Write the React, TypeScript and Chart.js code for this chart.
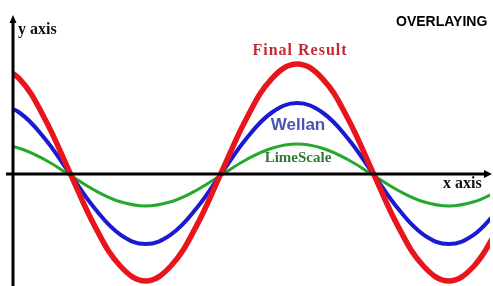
import React, { useEffect, useRef } from "react";
import { Chart, registerables } from "chart.js";

Chart.register(...registerables);

// phase angle in degrees along the x axis
const angles = [0, 30, 60, 90, 120, 150, 180, 210, 240, 270, 300, 330, 360, 390, 420, 450, 480, 510, 540, 570, 600];
// amplitudes (axis line = 0)
const finalResult = [110, 95.4, 55.8, 1.5, -52.6, -92, -107, -92, -52.6, 1.5, 55.8, 95.4, 110, 95.4, 55.8, 1.5, -52.6, -92, -107, -92, -52.6];
const wellan = [71, 61.5, 35.8, 0.5, -34.8, -60.6, -70, -60.6, -34.8, 0.5, 35.8, 61.5, 71, 61.5, 35.8, 0.5, -34.8, -60.6, -70, -60.6, -34.8];
const limeScale = [30, 25.8, 14.5, -1, -16.5, -27.8, -32, -27.8, -16.5, -1, 14.5, 25.8, 30, 25.8, 14.5, -1, -16.5, -27.8, -32, -27.8, -16.5];

const seriesNames = ["Final Result", "Wellan", "LimeScale"];
const axisLabels = ["x axis", "y axis"];
const titleText = "OVERLAYING";

const toPoints = (vals: number[]) => vals.map((v, i) => ({ x: angles[i], y: v }));

const overlayPlugin = {
  id: "overlay",
  afterDatasetsDraw(chart: any) {
    const ctx = chart.ctx as any;
    const ys = chart.scales.y;
    const y0 = ys.getPixelForValue(0);
    const x0 = chart.chartArea.left + 1;
    ctx.save();
    ctx.strokeStyle = "#000";
    ctx.fillStyle = "#000";
    ctx.lineWidth = 3;
    // horizontal axis
    ctx.beginPath();
    ctx.moveTo(6, y0);
    ctx.lineTo(486, y0);
    ctx.stroke();
    ctx.beginPath();
    ctx.moveTo(492, y0);
    ctx.lineTo(484, y0 - 4);
    ctx.lineTo(484, y0 + 4);
    ctx.closePath();
    ctx.fill();
    // vertical axis
    ctx.beginPath();
    ctx.moveTo(x0, 20);
    ctx.lineTo(x0, chart.height);
    ctx.stroke();
    ctx.beginPath();
    ctx.moveTo(x0, 15);
    ctx.lineTo(x0 - 3.5, 23);
    ctx.lineTo(x0 + 3.5, 23);
    ctx.closePath();
    ctx.fill();

    ctx.textBaseline = "middle";
    ctx.textAlign = "left";
    ctx.font = "bold 16px 'Liberation Serif', serif";
    ctx.fillStyle = "#111";
    ctx.fillText(axisLabels[1], 18, 30);
    ctx.fillText(axisLabels[0], 443, 184);

    ctx.font = "bold 14px 'Liberation Sans', sans-serif";
    ctx.fillStyle = "#000";
    ctx.fillText(titleText, 396, 22);

    ctx.textAlign = "center";
    ctx.letterSpacing = "1px";
    ctx.font = "bold 16px 'Liberation Serif', serif";
    ctx.fillStyle = "#c42a34";
    ctx.fillText(seriesNames[0], 300, 51);
    ctx.letterSpacing = "0px";
    ctx.font = "bold 17px 'Liberation Sans', sans-serif";
    ctx.fillStyle = "#4b55b0";
    ctx.fillText(seriesNames[1], 298, 125);
    ctx.font = "bold 15px 'Liberation Serif', serif";
    ctx.fillStyle = "#2f7a34";
    ctx.fillText(seriesNames[2], 298, 158);
    ctx.restore();
  },
};

export default function App() {
  const ref = useRef<HTMLCanvasElement | null>(null);
  useEffect(() => {
    if (!ref.current) return;
    const chart = new Chart(ref.current, {
      type: "line",
      data: {
        datasets: [
          { label: seriesNames[0], data: toPoints(finalResult), borderColor: "#e8161c", borderWidth: 5.5, pointRadius: 0, tension: 0.4, fill: false },
          { label: seriesNames[1], data: toPoints(wellan), borderColor: "#1a1ad2", borderWidth: 4, pointRadius: 0, tension: 0.4, fill: false },
          { label: seriesNames[2], data: toPoints(limeScale), borderColor: "#26a82c", borderWidth: 3, pointRadius: 0, tension: 0.4, fill: false },
        ],
      },
      options: {
        animation: false,
        responsive: false,
        maintainAspectRatio: false,
        layout: { padding: { left: 12, right: 3, top: 0, bottom: 0 } },
        plugins: { legend: { display: false }, tooltip: { enabled: false }, title: { display: false } },
        scales: {
          x: { type: "linear", min: 21.4, max: 589, display: false },
          y: { type: "linear", min: -112, max: 174, display: false },
        },
      },
      plugins: [overlayPlugin],
    });
    return () => chart.destroy();
  }, []);
  return (
    <div style={{ position: "fixed", left: 0, top: 0, width: 493, height: 286, background: "#fff" }}>
      <canvas ref={ref} width={493} height={286} style={{ display: "block" }} />
    </div>
  );
}
